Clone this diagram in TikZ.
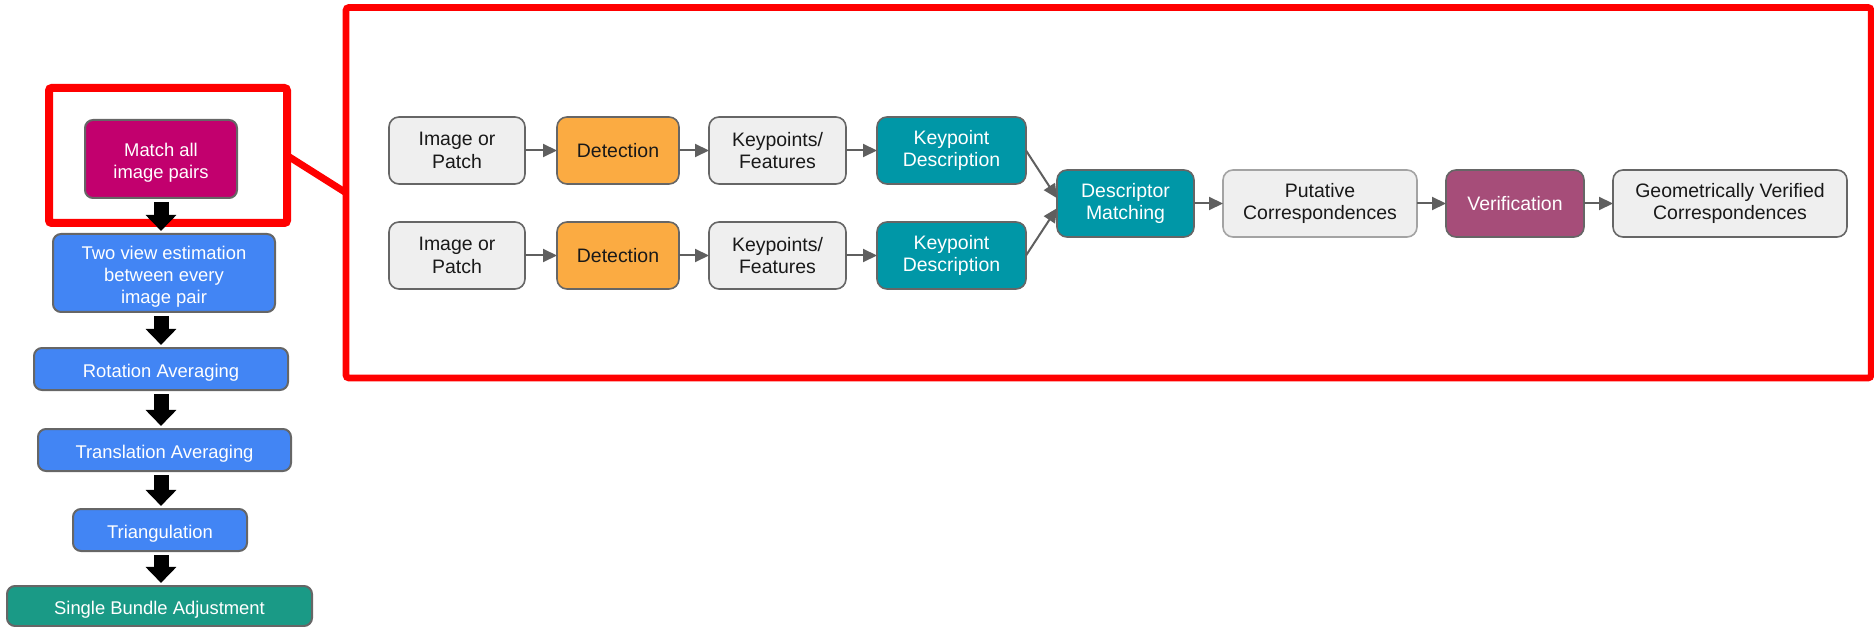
\documentclass[tikz,border=0pt]{standalone}
\usepackage{fontspec}
\setmainfont{Liberation Sans}
\usetikzlibrary{arrows.meta}

\definecolor{matchpink}{HTML}{C2006E}
\definecolor{stepblue}{HTML}{4285F4}
\definecolor{bundlegreen}{HTML}{1A9A86}
\definecolor{lightbox}{HTML}{EFEFEF}
\definecolor{detorange}{HTML}{FBAB42}
\definecolor{descteal}{HTML}{0097A7}
\definecolor{verberry}{HTML}{A64D79}
\definecolor{edgegrey}{HTML}{666666}
\definecolor{pipegrey}{HTML}{5F5F5F}
\definecolor{framered}{HTML}{FF0000}

% tall invisible strut that lowers the text inside a stage box
\newcommand\lowstrut{\rule{0pt}{15.6pt}}

\tikzset{
  sz/.style 2 args={minimum width=#1*0.75pt, minimum height=#2*0.75pt},
  % left-hand stage boxes (text sits a little low in the box)
  stage/.style={draw=edgegrey, line width=1.5pt, rounded corners=6pt,
    inner sep=0pt, outer sep=0pt, text=white, align=center,
    font=\fontsize{13.8}{16.4}\selectfont},
  % pipeline boxes
  pbox/.style={draw=edgegrey, line width=1.2pt, rounded corners=7.5pt,
    inner sep=0pt, outer sep=0pt, align=center, text=black!90,
    font=\fontsize{14.6}{16.8}\selectfont},
  lightnode/.style={pbox, fill=lightbox},
  darknode/.style={pbox, text=white},
  frame/.style={draw=framered, inner sep=0pt, outer sep=0pt, rounded corners=2pt},
  bigarrow/.style={line width=11.25pt, -{Triangle[width=22.5pt,length=12pt]}},
  flow/.style={draw=pipegrey, line width=1.5pt, -{Triangle[width=9.75pt,length=10.5pt]}},
}

\begin{document}
\begin{tikzpicture}[x=0.75pt, y=-0.75pt]
\useasboundingbox (0,0) rectangle (1874,627);

% highlight frames
\node[frame, line width=6pt, sz={238}{135}] (lframe) at (168,155.5) {};
\node[frame, line width=4.9pt, sz={1525}{370.5}] (bframe) at (1108.5,192.75) {};
\draw[framered, line width=5.25pt] (lframe.east) -- (bframe.west);

% reconstruction stages
\node[stage, fill=matchpink, sz={152}{78}] (match) at (161,159) {\lowstrut Match all\\image pairs};
\node[stage, fill=stepblue, sz={222}{78}] (twoview) at (164,273) {\lowstrut Two view estimation\\between every\\image pair};
\node[stage, fill=stepblue, sz={254}{42}] (rot) at (161,369) {\lowstrut Rotation Averaging};
\node[stage, fill=stepblue, sz={253}{42}] (trans) at (164.5,450) {\lowstrut Translation Averaging};
\node[stage, fill=stepblue, sz={174}{42}] (tri) at (160,530) {\lowstrut Triangulation};
\node[stage, fill=bundlegreen, sz={305}{40}] (sba) at (159.5,606) {\lowstrut Single Bundle Adjustment};

\coordinate (spine) at (161,0);
\foreach \a/\b in {match/twoview, twoview/rot, rot/trans, trans/tri, tri/sba}
  \draw[bigarrow, shorten <=3pt, shorten >=2.3pt] (spine |- \a.south) -- (spine |- \b.north);

% matching pipeline, first image
\node[lightnode, sz={136}{67}] (ip1) at (457,150.5) {Image or\\Patch};
\node[pbox, fill=detorange, sz={122}{67}] (det1) at (618,150.5) {Detection};
\node[lightnode, sz={137}{67}] (kp1) at (777.5,150.5) {Keypoints/\\Features};
\node[darknode, fill=descteal, sz={149}{67}] (kd1) at (951.5,150.5) {Keypoint\\Description};

% matching pipeline, second image
\node[lightnode, sz={136}{67}] (ip2) at (457,255.5) {Image or\\Patch};
\node[pbox, fill=detorange, sz={122}{67}] (det2) at (618,255.5) {Detection};
\node[lightnode, sz={137}{67}] (kp2) at (777.5,255.5) {Keypoints/\\Features};
\node[darknode, fill=descteal, sz={149}{67}] (kd2) at (951.5,255.5) {Keypoint\\Description};

% joint stages
\node[darknode, fill=descteal, sz={137}{67}] (dm) at (1125.5,203.5) {Descriptor\\Matching};
\node[lightnode, draw=edgegrey!60, sz={194}{67}] (put) at (1320,203.5) {Putative\\Correspondences};
\node[darknode, fill=verberry, sz={138}{67}] (ver) at (1515,203.5) {Verification};
\node[lightnode, sz={234}{67}] (geo) at (1730,203.5) {Geometrically Verified\\Correspondences};

\foreach \a/\b in {ip1/det1, det1/kp1, kp1/kd1, ip2/det2, det2/kp2, kp2/kd2, dm/put, put/ver, ver/geo}
  \draw[flow] (\a.east) -- (\b.west);
\draw[flow] (kd1.east) -- ([yshift=4pt]dm.west);
\draw[flow] (kd2.east) -- ([yshift=-3.5pt]dm.west);
\end{tikzpicture}
\end{document}
